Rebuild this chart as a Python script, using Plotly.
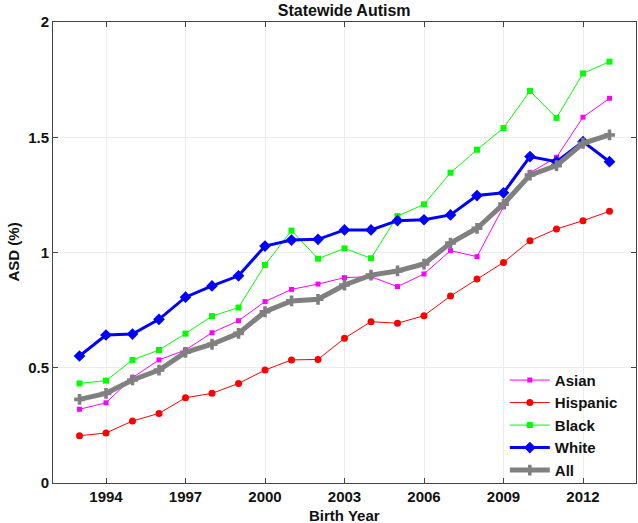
import plotly.graph_objects as go

years = list(range(1993, 2014))

asian = [0.320, 0.348, 0.457, 0.534, 0.577, 0.652, 0.704, 0.787, 0.840, 0.863,
         0.891, 0.895, 0.852, 0.907, 1.008, 0.982, 1.199, 1.346, 1.413, 1.587, 1.669]
hispanic = [0.205, 0.217, 0.269, 0.302, 0.370, 0.389, 0.432, 0.490, 0.534, 0.536,
            0.628, 0.700, 0.693, 0.726, 0.811, 0.885, 0.957, 1.051, 1.102, 1.138, 1.179]
black = [0.432, 0.444, 0.534, 0.577, 0.648, 0.724, 0.761, 0.946, 1.095, 0.973,
         1.018, 0.975, 1.158, 1.209, 1.346, 1.446, 1.540, 1.701, 1.584, 1.777, 1.828]
white = [0.551, 0.642, 0.646, 0.710, 0.806, 0.855, 0.899, 1.028, 1.054, 1.057,
         1.098, 1.098, 1.138, 1.142, 1.163, 1.247, 1.259, 1.416, 1.394, 1.481, 1.394]
all_ = [0.363, 0.389, 0.447, 0.490, 0.567, 0.602, 0.649, 0.743, 0.790, 0.797,
        0.859, 0.902, 0.920, 0.950, 1.041, 1.105, 1.210, 1.336, 1.377, 1.474, 1.510]

x_ticks = [1994, 1997, 2000, 2003, 2006, 2009, 2012]
y_ticks = [0, 0.5, 1, 1.5, 2]
y_tick_labels = ["0", "0.5", "1", "1.5", "2"]

series = [
    ("Asian", asian, "#ff00ff", 1, "square", 5),
    ("Hispanic", hispanic, "#ff0000", 1, "circle", 7),
    ("Black", black, "#00ff00", 1, "square", 6),
    ("White", white, "#0000ff", 3, "diamond", 9),
    ("All", all_, "#808080", 5, "cross", 9),
]

FONT = "Liberation Sans, Arial, Helvetica, sans-serif"
TXT = "#111111"

fig = go.Figure()
for name, vals, color, lw, sym, ms in series:
    fig.add_trace(go.Scatter(
        x=years, y=vals, name=name, mode="lines+markers",
        line=dict(color=color, width=lw),
        marker=dict(symbol=sym, size=ms, color=color, line=dict(width=0)),
    ))

axis_common = dict(
    showline=True, linecolor="#444444", linewidth=1, mirror="ticks",
    ticks="inside", ticklen=5, tickcolor="#444444",
    showgrid=True, gridcolor="#ececec", gridwidth=1,
    zeroline=False, automargin=False,
    tickfont=dict(family=FONT, size=15, color=TXT, weight="bold"),
)

fig.update_layout(
    width=638, height=523,
    margin=dict(l=53, r=2, t=22, b=40),
    paper_bgcolor="white", plot_bgcolor="white",
    title=dict(text="Statewide Autism", x=0.5395,
               xanchor="center", y=1 - 10 / 523, yanchor="middle", yref="container",
               automargin=False,
               font=dict(family=FONT, size=16, color=TXT, weight="bold")),
    xaxis=dict(range=[1992, 2014], tickvals=x_ticks, **axis_common),
    yaxis=dict(range=[0, 2], tickvals=y_ticks, ticktext=y_tick_labels, **axis_common),
    legend=dict(x=0.775, y=0.2585, xanchor="left", yanchor="top",
                bgcolor="rgba(255,255,255,0)", borderwidth=0,
                font=dict(family=FONT, size=15, color=TXT, weight="bold"),
                tracegroupgap=0, itemwidth=40),
    showlegend=True,
    annotations=[
        dict(text="Birth Year", xref="paper", yref="paper", x=0.5, y=-(515 - 483) / 461,
             xanchor="center", yanchor="middle", showarrow=False,
             font=dict(family=FONT, size=15, color=TXT, weight="bold")),
        dict(text="ASD (%)", xref="paper", yref="paper", x=-(53 - 13) / 583, y=0.5,
             xanchor="center", yanchor="middle", textangle=-90, showarrow=False,
             font=dict(family=FONT, size=15, color=TXT, weight="bold")),
    ],
)

fig.write_html("out.html", config={"displayModeBar": False},
               post_script="document.body.style.margin='0';document.body.style.overflow='hidden';")
